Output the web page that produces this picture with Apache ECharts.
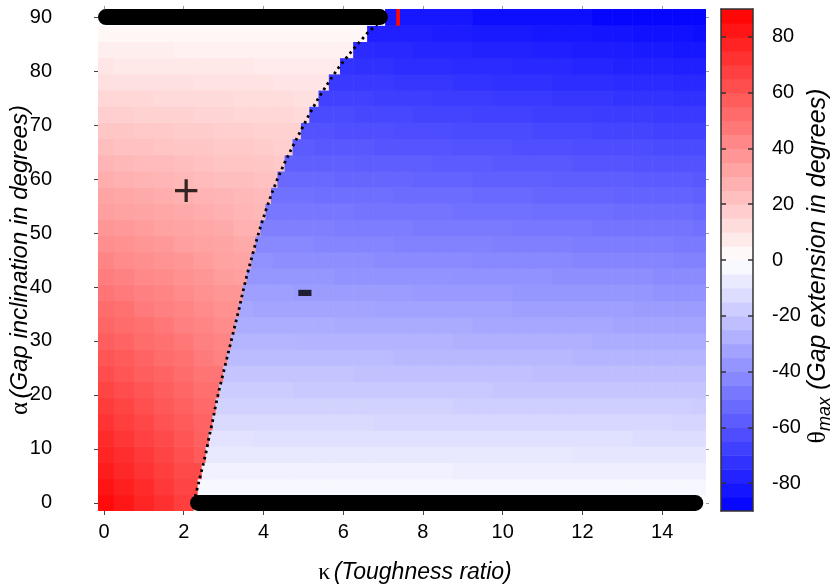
<!DOCTYPE html>
<html><head><meta charset="utf-8">
<script src="https://cdn.jsdelivr.net/npm/echarts@6/dist/echarts.min.js"></script>
<style>html,body{margin:0;padding:0;background:#fff}#c{width:830px;height:587px}</style>
</head><body><div id="c"></div>
<script>
// ---- data ----
const alphaRows = [0,3,6,9,12,15,18,21,24,27,30,33,36,39,42,45,48,51,54,57,60,63,66,69,72,75,78,81,84,87,90];
const kappaCols = [0,0.5,1,1.5,2,2.5,3,3.5,4,4.5,5,5.5,6,6.5,7,7.5,8,8.5,9,9.5,10,10.5,11,11.5,12,12.5,13,13.5,14,14.5,15];
// kappa of the red/blue boundary (dotted curve) for each alpha row
const boundaryKappa = [2.25,2.35,2.45,2.55,2.63,2.72,2.80,2.89,2.99,3.09,3.19,3.29,3.39,3.48,3.58,3.69,3.80,3.92,4.05,4.19,4.35,4.53,4.73,4.94,5.15,5.38,5.64,5.92,6.25,6.60,7.05];
// theta_max (degrees) per alpha row, one value per kappa column
const row00 = [86,82,77,73,68,0,0,0,0,0,0,0,0,0,0,0,0,0,0,0,0,0,0,0,0,0,0,0,0,0,0];
const row03 = [83,79,75,70,66,-3,-3,-3,-3,-3,-3,-3,-3,-3,-3,-3,-3,-3,-3,-3,-3,-3,-3,-3,-3,-3,-3,-3,-3,-3,-3];
const row06 = [80,76,72,68,64,-5,-5,-5,-5,-5,-5,-5,-5,-5,-5,-5,-5,-5,-6,-6,-6,-6,-6,-6,-6,-6,-6,-6,-6,-6,-6];
const row09 = [77,74,70,66,62,58,-8,-8,-8,-8,-8,-8,-8,-8,-8,-8,-8,-8,-8,-8,-8,-8,-8,-8,-9,-9,-9,-9,-9,-9,-9];
const row12 = [75,71,67,64,60,56,-10,-10,-11,-11,-11,-11,-11,-11,-11,-11,-11,-11,-11,-11,-11,-11,-11,-11,-11,-11,-11,-12,-12,-12,-12];
const row15 = [72,68,65,61,58,55,-13,-13,-13,-13,-13,-13,-13,-13,-14,-14,-14,-14,-14,-14,-14,-14,-14,-14,-14,-14,-14,-14,-14,-15,-15];
const row18 = [69,66,62,59,56,53,-16,-16,-16,-16,-16,-16,-16,-16,-16,-16,-16,-16,-17,-17,-17,-17,-17,-17,-17,-17,-17,-17,-17,-17,-18];
const row21 = [66,63,60,57,54,51,-18,-18,-18,-18,-19,-19,-19,-19,-19,-19,-19,-19,-19,-19,-20,-20,-20,-20,-20,-20,-20,-20,-20,-20,-20];
const row24 = [63,60,57,55,52,49,-21,-21,-21,-21,-21,-21,-21,-22,-22,-22,-22,-22,-22,-22,-22,-22,-23,-23,-23,-23,-23,-23,-23,-23,-23];
const row27 = [60,58,55,52,50,47,44,-24,-24,-24,-24,-24,-24,-24,-24,-25,-25,-25,-25,-25,-25,-25,-25,-25,-26,-26,-26,-26,-26,-26,-26];
const row30 = [57,55,52,50,48,45,43,-26,-26,-26,-27,-27,-27,-27,-27,-27,-27,-27,-28,-28,-28,-28,-28,-28,-28,-29,-29,-29,-29,-29,-29];
const row33 = [54,52,50,48,45,43,41,-29,-29,-29,-29,-29,-30,-30,-30,-30,-30,-30,-30,-31,-31,-31,-31,-31,-31,-31,-32,-32,-32,-32,-32];
const row36 = [52,50,47,45,43,41,39,-31,-32,-32,-32,-32,-32,-32,-33,-33,-33,-33,-33,-33,-33,-34,-34,-34,-34,-34,-34,-35,-35,-35,-35];
const row39 = [49,47,45,43,41,39,37,-34,-34,-34,-35,-35,-35,-35,-35,-35,-36,-36,-36,-36,-36,-37,-37,-37,-37,-37,-37,-37,-38,-38,-38];
const row42 = [46,44,42,41,39,37,35,34,-37,-37,-37,-37,-38,-38,-38,-38,-38,-38,-39,-39,-39,-39,-39,-40,-40,-40,-40,-40,-41,-41,-41];
const row45 = [43,41,40,38,37,35,33,32,-39,-40,-40,-40,-40,-40,-41,-41,-41,-41,-41,-42,-42,-42,-42,-42,-43,-43,-43,-43,-43,-44,-44];
const row48 = [40,39,37,36,34,33,32,30,-42,-42,-42,-43,-43,-43,-43,-44,-44,-44,-44,-44,-45,-45,-45,-45,-46,-46,-46,-46,-46,-47,-47];
const row51 = [37,36,35,33,32,31,30,28,-45,-45,-45,-45,-46,-46,-46,-46,-47,-47,-47,-47,-47,-48,-48,-48,-48,-49,-49,-49,-49,-49,-50];
const row54 = [34,33,32,31,30,29,28,26,25,-48,-48,-48,-48,-49,-49,-49,-49,-49,-50,-50,-50,-50,-51,-51,-51,-51,-52,-52,-52,-52,-53];
const row57 = [32,31,30,29,28,27,26,25,24,-50,-50,-51,-51,-51,-51,-52,-52,-52,-52,-53,-53,-53,-54,-54,-54,-54,-55,-55,-55,-55,-56];
const row60 = [29,28,27,26,25,24,23,23,22,-53,-53,-53,-54,-54,-54,-54,-55,-55,-55,-56,-56,-56,-56,-57,-57,-57,-57,-58,-58,-58,-59];
const row63 = [26,25,24,24,23,22,21,21,20,19,-56,-56,-56,-57,-57,-57,-57,-58,-58,-58,-59,-59,-59,-59,-60,-60,-60,-61,-61,-61,-61];
const row66 = [23,22,22,21,20,20,19,19,18,17,-58,-59,-59,-59,-60,-60,-60,-60,-61,-61,-61,-62,-62,-62,-63,-63,-63,-63,-64,-64,-64];
const row69 = [20,20,19,19,18,18,17,17,16,16,-61,-61,-62,-62,-62,-63,-63,-63,-64,-64,-64,-64,-65,-65,-65,-66,-66,-66,-67,-67,-67];
const row72 = [17,17,16,16,16,15,15,14,14,14,13,-64,-64,-65,-65,-65,-66,-66,-66,-67,-67,-67,-68,-68,-68,-69,-69,-69,-70,-70,-70];
const row75 = [14,14,14,13,13,13,13,12,12,12,11,-67,-67,-67,-68,-68,-68,-69,-69,-69,-70,-70,-70,-71,-71,-71,-72,-72,-72,-73,-73];
const row78 = [11,11,11,11,11,10,10,10,10,9,9,9,-70,-70,-70,-71,-71,-71,-72,-72,-73,-73,-73,-74,-74,-74,-75,-75,-75,-76,-76];
const row81 = [9,8,8,8,8,8,8,8,7,7,7,7,-72,-73,-73,-74,-74,-74,-75,-75,-75,-76,-76,-76,-77,-77,-78,-78,-78,-79,-79];
const row84 = [6,6,6,6,5,5,5,5,5,5,5,5,5,-75,-76,-76,-77,-77,-77,-78,-78,-78,-79,-79,-80,-80,-80,-81,-81,-82,-82];
const row87 = [3,3,3,3,3,3,3,3,3,3,3,3,3,3,-79,-79,-79,-80,-80,-81,-81,-81,-82,-82,-82,-83,-83,-84,-84,-84,-85];
const row90 = [0,0,0,0,0,0,0,0,0,0,0,0,0,0,0,-82,-82,-82,-82,-85,-85,-85,-85,-85,-85,-88,-88,-88,-88,-88,-88];
const thetaRows = [row00,row03,row06,row09,row12,row15,row18,row21,row24,row27,row30,row33,row36,row39,row42,row45,row48,row51,row54,row57,row60,row63,row66,row69,row72,row75,row78,row81,row84,row87,row90];
// narrow red cell in the top row: [kappa from, kappa to, theta]
const topRowSpike = [7.33, 7.41, 88];
// black dot runs: [kappa, alpha] at both ends of each run
const topDots = [[0.05, 90], [6.92, 90]];
const bottomDots = [[2.36, 0], [14.83, 0]];
// region signs
const signPoints = [[2.06, 57.4], [5.04, 39.1]];
const signTexts = ['+', '-'];
// ticks
const xTicks = [0,2,4,6,8,10,12,14];
const yTicks = [0,10,20,30,40,50,60,70,80,90];
const cbTicks = [-80,-60,-40,-20,0,20,40,60,80];
const cbBands = [-87.5,-82.5,-77.5,-72.5,-67.5,-62.5,-57.5,-52.5,-47.5,-42.5,-37.5,-32.5,-27.5,-22.5,-17.5,-12.5,-7.5,-2.5,2.5,7.5,12.5,17.5,22.5,27.5,32.5,37.5,42.5,47.5,52.5,57.5,62.5,67.5,72.5,77.5,82.5,87.5];

// ---- build cell table ----
const cells = [];
thetaRows.forEach((row, i) => {
  if (row.length !== kappaCols.length) console.error('row length', alphaRows[i], row.length);
  const a = alphaRows[i], kc = boundaryKappa[i];
  row.forEach((v, j) => {
    const k = kappaCols[j];
    let k0 = k - 0.25, k1 = k + 0.25;
    if (k < kc) { if (k + 0.5 > kc) k1 = kc; }
    else { if (k - 0.5 < kc) k0 = kc; }
    cells.push([k0, k1, a - 1.5, a + 1.5, v]);
  });
});
cells.push([topRowSpike[0], topRowSpike[1], 88.5, 91.5, topRowSpike[2]]);
const bandCells = cbBands.map(v => [0, 1, v - 2.5, v + 2.5, v]);

function renderCell(params, api) {
  const p0 = api.coord([api.value(0), api.value(3)]);
  const p1 = api.coord([api.value(1), api.value(2)]);
  return {
    type: 'rect',
    shape: { x: p0[0], y: p0[1], width: p1[0] - p0[0] + 0.6, height: p1[1] - p0[1] + 0.6 },
    style: { fill: api.visual('color') }
  };
}

const font = '"Liberation Sans", Arial, Helvetica, sans-serif';
const serif = '"Liberation Serif", "DejaVu Serif", serif';
function richFor(size) {
  return {
    g: { fontFamily: serif, fontSize: size + 1, color: '#000' },
    i: { fontFamily: font, fontStyle: 'italic', fontSize: size, color: '#000' },
    s: { fontFamily: font, fontStyle: 'italic', fontSize: Math.round(size * 0.72), color: '#000', padding: [13, 0, 0, 0] }
  };
}
const tickLabel = { fontSize: 20, color: '#000', fontFamily: font };

const chart = echarts.init(document.getElementById('c'), null, { renderer: 'canvas' });
chart.setOption({
  animation: false,
  backgroundColor: '#ffffff',
  grid: [
    { left: 98, top: 9, width: 608, height: 502, outerBoundsMode: 'none', containLabel: false },
    { left: 721, top: 9, width: 32, height: 502, outerBoundsMode: 'none', containLabel: false }
  ],
  visualMap: {
    type: 'continuous', show: false, min: -90, max: 90, dimension: 4, seriesIndex: [0, 1],
    inRange: { color: ['#0000ff', '#ffffff', '#ff0000'] }
  },
  xAxis: [
    { gridIndex: 0, type: 'value', min: -0.15, max: 15.1, position: 'bottom',
      axisLine: { show: false, onZero: false }, splitLine: { show: false },
      axisTick: { show: true, length: 4, customValues: xTicks, lineStyle: { color: '#444' } },
      axisLabel: Object.assign({ customValues: xTicks, margin: 11 }, tickLabel),
      name: '{g|κ} {i|(Toughness ratio)}', nameLocation: 'middle', nameGap: 50, nameMoveOverlap: false,
      nameTextStyle: { rich: richFor(23), padding: [0, 0, 0, 26] } },
    { gridIndex: 0, type: 'value', min: -0.15, max: 15.1, position: 'top',
      axisLine: { show: false, onZero: false }, splitLine: { show: false },
      axisTick: { show: true, length: 3, customValues: xTicks, lineStyle: { color: '#999' } },
      axisLabel: { show: false } },
    { gridIndex: 1, type: 'value', min: 0, max: 1, position: 'bottom', z: 10,
      axisLine: { show: true, onZero: false, lineStyle: { color: '#333', width: 1.5 } },
      axisTick: { show: false }, axisLabel: { show: false }, splitLine: { show: false } },
    { gridIndex: 1, type: 'value', min: 0, max: 1, position: 'top', z: 10,
      axisLine: { show: true, onZero: false, lineStyle: { color: '#333', width: 1.5 } },
      axisTick: { show: false }, axisLabel: { show: false }, splitLine: { show: false } }
  ],
  yAxis: [
    { gridIndex: 0, type: 'value', min: -1.5, max: 91.5, position: 'left',
      axisLine: { show: false, onZero: false }, splitLine: { show: false },
      axisTick: { show: true, length: 4, customValues: yTicks, lineStyle: { color: '#444' } },
      axisLabel: Object.assign({ customValues: yTicks, margin: 46 }, tickLabel),
      name: '{g|α} {i|(Gap inclination in degrees)}', nameLocation: 'middle', nameGap: 65, nameRotate: 90,
      nameMoveOverlap: false, nameTextStyle: { rich: richFor(24) } },
    { gridIndex: 0, type: 'value', min: -1.5, max: 91.5, position: 'right',
      axisLine: { show: false, onZero: false }, splitLine: { show: false },
      axisTick: { show: true, length: 3, customValues: yTicks, lineStyle: { color: '#999' } },
      axisLabel: { show: false } },
    { gridIndex: 1, type: 'value', min: -90, max: 90, position: 'left', z: 10,
      axisLine: { show: true, onZero: false, lineStyle: { color: '#333', width: 1.5 } },
      axisTick: { show: true, inside: true, length: 5, customValues: cbTicks, lineStyle: { color: '#333', width: 1.5 } },
      axisLabel: { show: false }, splitLine: { show: false } },
    { gridIndex: 1, type: 'value', min: -90, max: 90, position: 'right', z: 10,
      axisLine: { show: true, onZero: false, lineStyle: { color: '#333', width: 1.5 } },
      axisTick: { show: true, inside: true, length: 5, customValues: cbTicks, lineStyle: { color: '#333', width: 1.5 } },
      axisLabel: Object.assign({ customValues: cbTicks, margin: 19, align: 'left' }, tickLabel),
      splitLine: { show: false },
      name: '{g|θ}{s|max}{i| (Gap extension in degrees)}', nameLocation: 'middle', nameGap: 50, nameRotate: 90,
      nameMoveOverlap: false, nameTextStyle: { rich: richFor(25), padding: [0, 12, 0, 0] } }
  ],
  series: [
    { type: 'custom', name: 'theta', xAxisIndex: 0, yAxisIndex: 0, clip: true, silent: true,
      renderItem: renderCell, encode: { x: [0, 1], y: [2, 3] }, data: cells },
    { type: 'custom', name: 'colorbar', xAxisIndex: 2, yAxisIndex: 3, clip: true, silent: true,
      renderItem: renderCell, encode: { x: [0, 1], y: [2, 3] }, data: bandCells },
    { type: 'line', xAxisIndex: 0, yAxisIndex: 0, silent: true, symbol: 'none',
      data: alphaRows.map((a, i) => [boundaryKappa[i], a]),
      lineStyle: { color: '#000', width: 2.8, type: [2.6, 3.8], cap: 'butt' } },
    { type: 'line', xAxisIndex: 0, yAxisIndex: 0, silent: true, symbol: 'none', data: topDots,
      lineStyle: { color: '#000', width: 16, cap: 'round' } },
    { type: 'line', xAxisIndex: 0, yAxisIndex: 0, silent: true, symbol: 'none', data: bottomDots,
      lineStyle: { color: '#000', width: 16, cap: 'round' } },
    { type: 'scatter', xAxisIndex: 0, yAxisIndex: 0, silent: true, symbolSize: 0,
      data: signPoints.map((p, i) => ({
        value: p,
        label: signTexts[i] === '-' ? { formatter: signTexts[i], fontWeight: 'bold', fontSize: 52 } : { formatter: signTexts[i] }
      })),
      label: { show: true, position: 'inside', fontSize: 46, color: '#000', fontFamily: font } }
  ]
});
</script>
</body></html>
